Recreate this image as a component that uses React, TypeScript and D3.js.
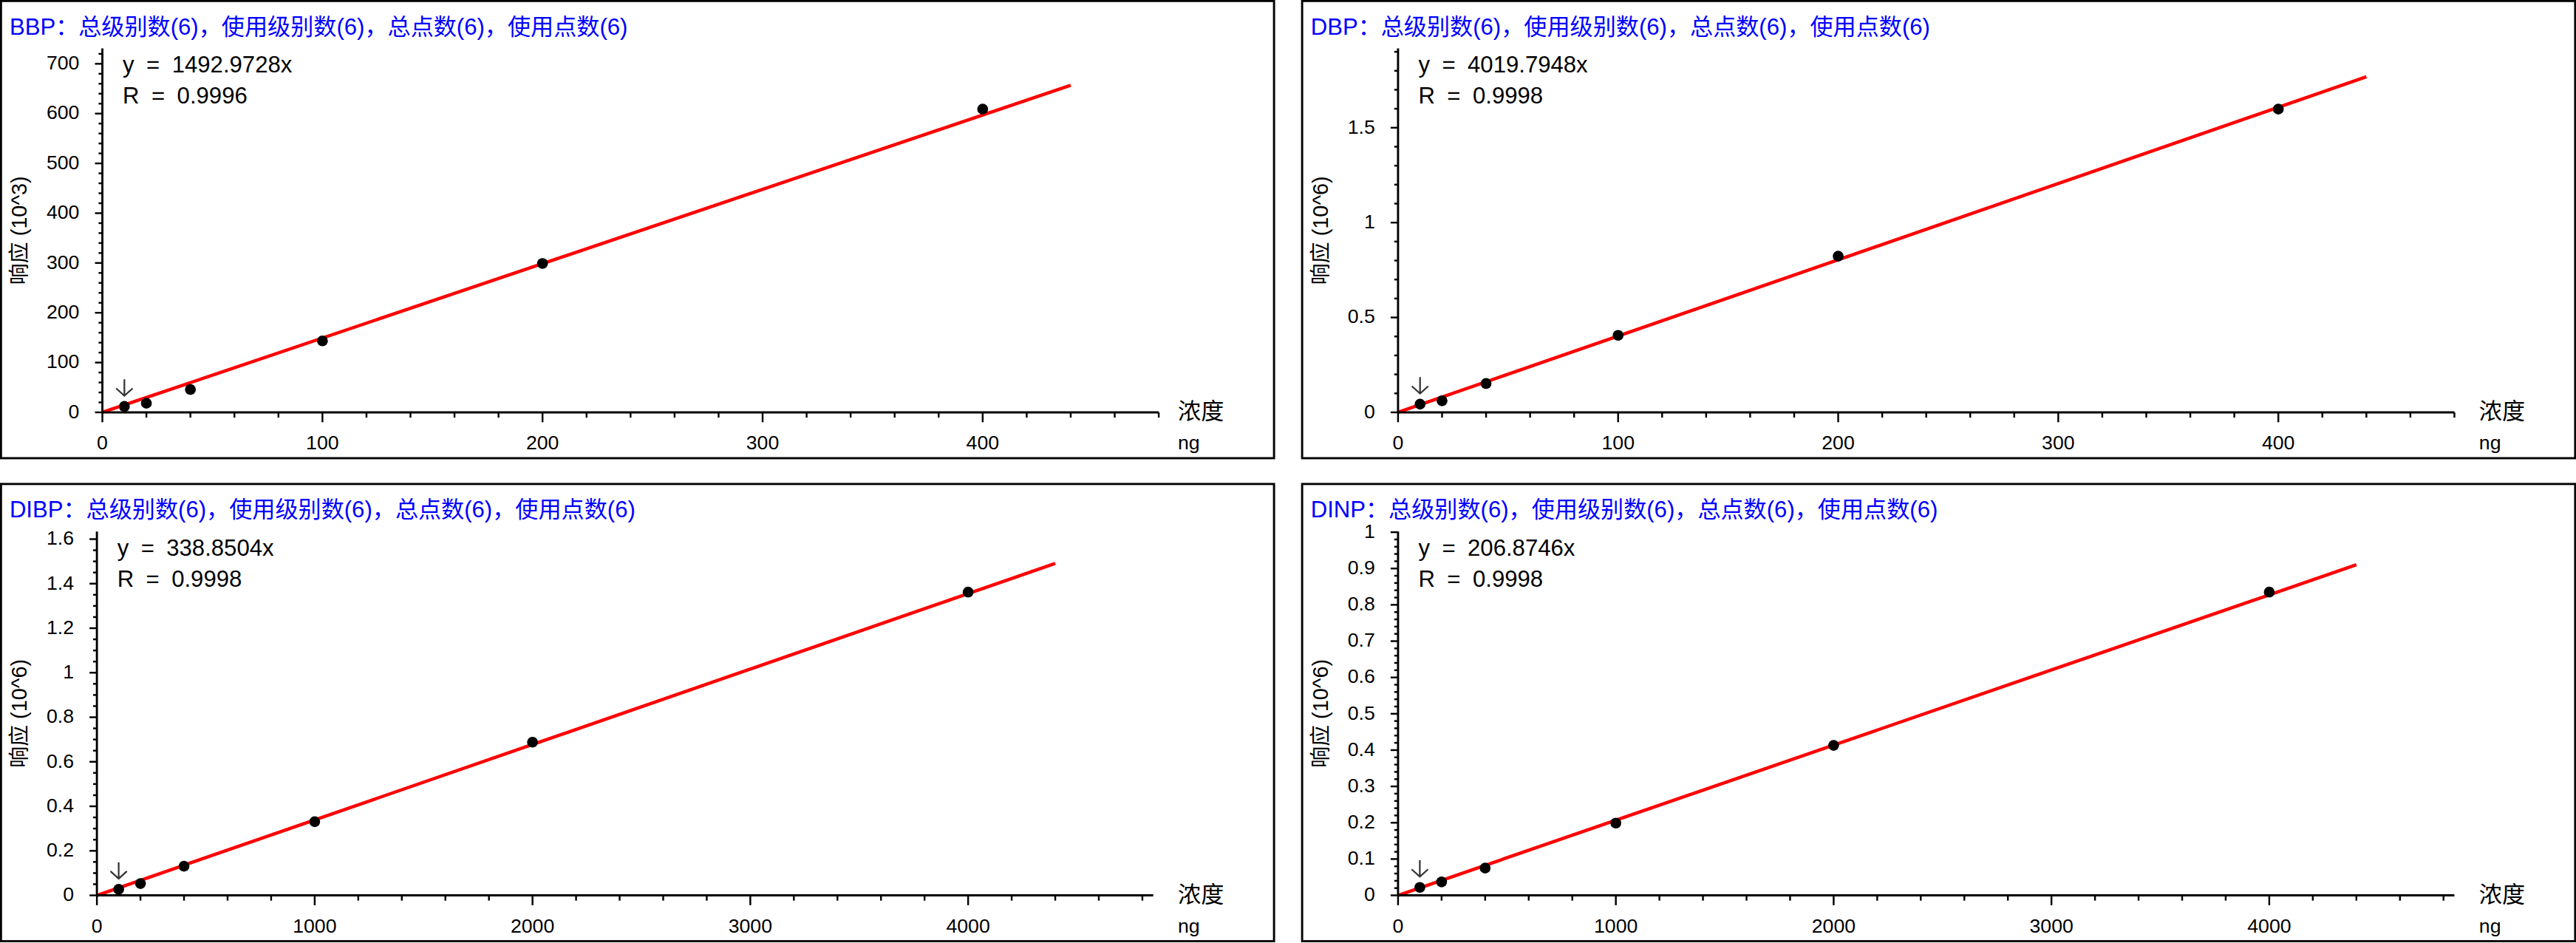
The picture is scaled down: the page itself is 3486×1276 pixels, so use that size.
import React from 'react';
import * as d3 from 'd3';

// ---------- data ----------
const compounds = ['BBP', 'DBP', 'DIBP', 'DINP'];
const slopes = [1492.9728, 4019.7948, 338.8504, 206.8746];
const rValues = ['0.9996', '0.9998', '0.9998', '0.9998'];
const unitPowers = [3, 6, 6, 6];

const levelsSmall = [10, 20, 40, 100, 200, 400];
const levelsLarge = [100, 200, 400, 1000, 2000, 4000];

const respBBP = [11.9, 18.3, 46, 143.6, 299, 609];
const respDBP = [0.043, 0.061, 0.152, 0.406, 0.823, 1.598];
const respDIBP = [0.027, 0.053, 0.131, 0.331, 0.688, 1.362];
const respDINP = [0.022, 0.037, 0.075, 0.199, 0.413, 0.835];

const yTicksBBP = [0, 100, 200, 300, 400, 500, 600, 700];
const yTicksDBP = [0, 0.5, 1, 1.5];
const yTicksDIBP = [0, 0.2, 0.4, 0.6, 0.8, 1, 1.2, 1.4, 1.6];
const yTicksDINP = [0, 0.1, 0.2, 0.3, 0.4, 0.5, 0.6, 0.7, 0.8, 0.9, 1];
const yMinorSteps = [20, 0.1, 0.05, 0.02];

const xTicksSmall = [0, 100, 200, 300, 400];
const xTicksLarge = [0, 1000, 2000, 3000, 4000];
const xMinorSteps = [20, 20, 200, 200];
const xAxisMax = [480, 480, 4850, 4850];

const panelX = [0, 792, 0, 792];
const panelY = [0, 0, 294, 294];

const panels = compounds.map((name, i) => ({
  name,
  slope: slopes[i],
  r: rValues[i],
  pow: unitPowers[i],
  xs: i < 2 ? levelsSmall : levelsLarge,
  ys: [respBBP, respDBP, respDIBP, respDINP][i],
  yTicks: [yTicksBBP, yTicksDBP, yTicksDIBP, yTicksDINP][i],
  yMinor: yMinorSteps[i],
  xTicks: i < 2 ? xTicksSmall : xTicksLarge,
  xMinor: xMinorSteps[i],
  xMax: xAxisMax[i],
  ox: panelX[i],
  oy: panelY[i],
}));

const LATIN = "'Liberation Sans', Arial, 'Noto Sans CJK SC', sans-serif";

function labelWidth(s: string, size: number) {
  let w = 0;
  for (const c of s) w += c === '.' ? 0.278 * size : 0.556 * size;
  return w;
}

function fmt(v: number) {
  return String(Math.round(v * 1e6) / 1e6);
}

function Panel({ p }: { p: (typeof panels)[number] }) {
  const maxLabelW = d3.max(p.yTicks, (t) => labelWidth(fmt(t), 12)) as number;
  const axisX = 42.3 + maxLabelW;
  const plotW = 643;
  const axisY = 251;
  const axisTop = 29.5;
  const yMax = 1.2 * (d3.max(p.ys) as number);
  const x = d3.scaleLinear().domain([0, p.xMax]).range([axisX, axisX + plotW]);
  const y = d3.scaleLinear().domain([0, yMax]).range([axisY, axisTop]);

  const yMajorStep = p.yTicks[1] - p.yTicks[0];
  const yMinors = d3
    .range(0, yMax + 1e-9, p.yMinor)
    .filter((v) => Math.abs(v / yMajorStep - Math.round(v / yMajorStep)) > 1e-6);
  const xMajorStep = p.xTicks[1] - p.xTicks[0];
  const xTickTop = Math.floor(p.xMax / p.xMinor + 1e-9) * p.xMinor;
  const xMinors = d3
    .range(0, xTickTop + 1e-9, p.xMinor)
    .filter((v) => Math.abs(v / xMajorStep - Math.round(v / xMajorStep)) > 1e-6);

  const scaleDiv = Math.pow(10, p.pow);
  const maxX = d3.max(p.xs) as number;
  const lineData: [number, number][] = [
    [0, 0],
    [1.1 * maxX, (p.slope * 1.1 * maxX) / scaleDiv],
  ];
  const line = d3
    .line<[number, number]>()
    .x((d) => x(d[0]))
    .y((d) => y(d[1]));

  const ax = x(p.xs[0]);
  const ay = y(p.ys[0]);
  const tipY = ay - 6.5;
  const tailY = ay - 16.5;

  const title = `${p.name}：总级别数(6)，使用级别数(6)，总点数(6)，使用点数(6)`;

  return (
    <g transform={`translate(${p.ox},${p.oy})`}>
      <rect x={0.6} y={0.6} width={774.9} height={278.3} fill="#fff" stroke="#000" strokeWidth={1.3} />
      <text x={5.8} y={21} fill="#0000ff" fontSize={14} fontFamily={LATIN}>
        {title}
      </text>

      {/* regression line */}
      <path d={line(lineData) as string} stroke="#ff0000" strokeWidth={2} fill="none" />

      {/* y axis */}
      <line x1={axisX} x2={axisX} y1={axisTop} y2={axisY} stroke="#000" strokeWidth={1.3} />
      {p.yTicks.map((t) => (
        <g key={'ym' + t}>
          <line x1={axisX - 4.5} x2={axisX} y1={y(t)} y2={y(t)} stroke="#000" strokeWidth={1.1} />
          <text x={axisX - 14} y={y(t) + 3.5} textAnchor="end" fontSize={12} fontFamily={LATIN} fill="#000">
            {fmt(t)}
          </text>
        </g>
      ))}
      {yMinors.map((t) => (
        <line key={'yn' + t} x1={axisX - 2.3} x2={axisX} y1={y(t)} y2={y(t)} stroke="#000" strokeWidth={1.1} />
      ))}

      {/* x axis */}
      <line x1={axisX} x2={axisX + plotW} y1={axisY} y2={axisY} stroke="#000" strokeWidth={1.3} />
      {p.xTicks.map((t) => (
        <g key={'xm' + t}>
          <line x1={x(t)} x2={x(t)} y1={axisY} y2={axisY + 6} stroke="#000" strokeWidth={1.1} />
          <text x={x(t)} y={273.6} textAnchor="middle" fontSize={12} fontFamily={LATIN} fill="#000">
            {fmt(t)}
          </text>
        </g>
      ))}
      {xMinors.map((t) => (
        <line key={'xn' + t} x1={x(t)} x2={x(t)} y1={axisY} y2={axisY + 3.2} stroke="#000" strokeWidth={1.1} />
      ))}

      {/* axis titles */}
      <text
        transform={`translate(11.7,${(axisTop + axisY) / 2}) rotate(-90)`}
        textAnchor="middle"
        dominantBaseline="central"
        fontSize={13}
        fontFamily={LATIN}
        fill="#000"
      >
        {`响应 (10^${p.pow})`}
      </text>
      <text x={717} y={255.2} fontSize={14} fontFamily={LATIN} fill="#000">
        浓度
      </text>
      <text x={717} y={273.6} fontSize={12} fontFamily={LATIN} fill="#000">
        ng
      </text>

      {/* equation */}
      <text x={axisX + 12.4} y={44.2} fontSize={14} fontFamily={LATIN} fill="#000" wordSpacing={3.5}>
        {`y = ${p.slope.toFixed(4)}x`}
      </text>
      <text x={axisX + 12.4} y={63} fontSize={14} fontFamily={LATIN} fill="#000" wordSpacing={3.5}>
        {`R = ${p.r}`}
      </text>

      {/* points */}
      {p.xs.map((xv, i) => (
        <circle key={'pt' + i} cx={x(xv)} cy={y(p.ys[i])} r={3.3} fill="#000" />
      ))}

      {/* arrow marker on lowest level */}
      <path
        d={`M${ax},${tailY} L${ax},${tipY} M${ax - 5},${tipY - 4.5} L${ax},${tipY} L${ax + 5},${tipY - 4.5}`}
        stroke="#333"
        strokeWidth={1}
        fill="none"
      />
    </g>
  );
}

export default function App() {
  return (
    <svg
      width={3486}
      height={1276}
      viewBox="0 0 1568 574"
      preserveAspectRatio="none"
      style={{ position: 'absolute', left: 0, top: 0, display: 'block', background: '#fff' }}
    >
      <rect x={0} y={0} width={1568} height={574} fill="#fff" />
      {panels.map((p) => (
        <Panel key={p.name} p={p} />
      ))}
    </svg>
  );
}
